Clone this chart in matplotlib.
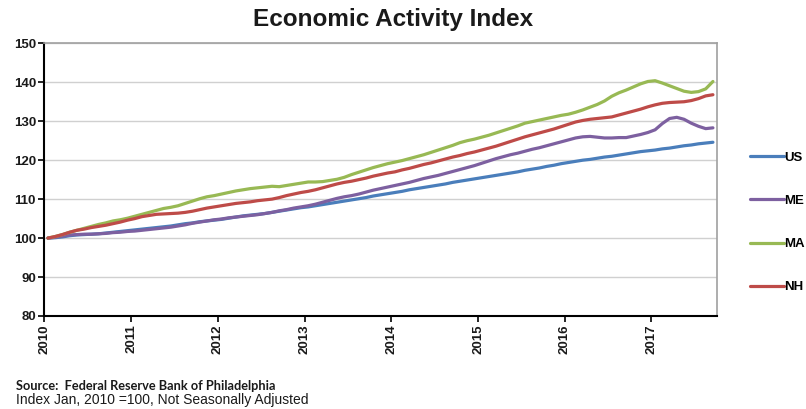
import numpy as np
import matplotlib
matplotlib.use("Agg")
import matplotlib.pyplot as plt

# monthly index values, Jan 2010 = 100, running Jan 2010 .. Sep 2017
us = [100.0, 100.1, 100.3, 100.6, 100.8, 100.9, 101.0, 101.1, 101.3, 101.5, 101.7, 101.9,
      102.1, 102.3, 102.5, 102.7, 102.9, 103.1, 103.4, 103.7, 103.9, 104.2, 104.4, 104.6,
      104.8, 105.1, 105.4, 105.7, 105.9, 106.1, 106.3, 106.6, 106.9, 107.2, 107.5, 107.8,
      108.0, 108.3, 108.6, 108.9, 109.2, 109.5, 109.8, 110.1, 110.4, 110.8, 111.1, 111.4,
      111.7, 112.0, 112.4, 112.7, 113.0, 113.3, 113.6, 113.9, 114.3, 114.6, 114.9, 115.2,
      115.5, 115.8, 116.1, 116.4, 116.7, 117.0, 117.4, 117.7, 118.0, 118.4, 118.7, 119.1,
      119.4, 119.7, 120.0, 120.2, 120.5, 120.8, 121.0, 121.3, 121.6, 121.9, 122.2, 122.4,
      122.6, 122.9, 123.1, 123.4, 123.7, 123.9, 124.2, 124.4, 124.6]

me = [100.0, 100.2, 100.5, 100.8, 100.9, 101.0, 101.0, 101.1, 101.2, 101.4, 101.5, 101.7,
      101.8, 102.0, 102.2, 102.4, 102.6, 102.8, 103.1, 103.4, 103.8, 104.1, 104.4, 104.7,
      104.9, 105.2, 105.4, 105.6, 105.8, 106.0, 106.3, 106.6, 107.0, 107.3, 107.7, 108.0,
      108.3, 108.7, 109.2, 109.7, 110.2, 110.6, 110.9, 111.3, 111.8, 112.3, 112.7, 113.1,
      113.5, 113.9, 114.3, 114.8, 115.3, 115.7, 116.1, 116.6, 117.1, 117.6, 118.1, 118.6,
      119.2, 119.8, 120.4, 120.9, 121.4, 121.8, 122.3, 122.8, 123.2, 123.7, 124.2, 124.7,
      125.2, 125.7, 126.0, 126.1, 125.9, 125.7, 125.7, 125.8, 125.8, 126.2, 126.6, 127.1,
      127.8, 129.4, 130.7, 131.0, 130.5, 129.5, 128.7, 128.1, 128.3]

ma = [100.0, 100.4, 100.9, 101.5, 102.0, 102.5, 103.0, 103.5, 103.9, 104.4, 104.7, 105.1,
      105.6, 106.1, 106.6, 107.1, 107.6, 107.9, 108.3, 108.9, 109.5, 110.1, 110.6, 110.9,
      111.3, 111.7, 112.1, 112.4, 112.7, 112.9, 113.1, 113.3, 113.2, 113.5, 113.8, 114.1,
      114.4, 114.4, 114.5, 114.8, 115.1, 115.6, 116.3, 116.9, 117.5, 118.1, 118.6, 119.1,
      119.5, 119.9, 120.4, 120.9, 121.4, 122.0, 122.6, 123.2, 123.8, 124.5, 125.0, 125.4,
      125.9, 126.4, 127.0, 127.6, 128.2, 128.8, 129.5, 129.9, 130.3, 130.7, 131.1, 131.5,
      131.8, 132.3, 132.9, 133.6, 134.3, 135.2, 136.4, 137.3, 138.0, 138.8, 139.6, 140.2,
      140.4, 139.8, 139.1, 138.4, 137.7, 137.4, 137.6, 138.3, 140.2]

nh = [100.0, 100.4, 100.9, 101.5, 102.0, 102.3, 102.7, 103.0, 103.3, 103.7, 104.1, 104.6,
      105.0, 105.5, 105.8, 106.1, 106.2, 106.3, 106.4, 106.6, 106.9, 107.3, 107.7, 108.0,
      108.3, 108.6, 108.9, 109.1, 109.3, 109.6, 109.8, 110.0, 110.4, 110.9, 111.3, 111.7,
      112.0, 112.4, 112.9, 113.4, 113.9, 114.3, 114.6, 115.0, 115.4, 115.9, 116.3, 116.7,
      117.0, 117.5, 117.9, 118.4, 118.9, 119.3, 119.8, 120.3, 120.8, 121.2, 121.7, 122.1,
      122.6, 123.1, 123.6, 124.2, 124.8, 125.4, 126.0, 126.5, 127.0, 127.5, 128.0, 128.6,
      129.2, 129.8, 130.2, 130.5, 130.7, 130.9, 131.1, 131.6, 132.1, 132.6, 133.1, 133.7,
      134.2, 134.6, 134.8, 134.9, 135.0, 135.3, 135.8, 136.5, 136.8]

series = ["US", "ME", "MA", "NH"]
colors = ["#4a7ebb", "#7d60a0", "#98b954", "#be4b48"]
years = [str(y) for y in range(2010, 2018)]

# category axis: one slot per month, point drawn at the slot centre
n = len(us)
x = np.arange(n) + 0.5

fig = plt.figure(figsize=(8.06, 4.09), dpi=100)
ax = fig.add_axes([0.055, 0.2274, 0.834, 0.6667])

for vals, name, c in zip([us, me, ma, nh], series, colors):
    ax.plot(x, vals, color=c, lw=2.3, label=name, solid_capstyle="round")

ax.set_xlim(0, n)
ax.set_ylim(80, 150)
ax.set_yticks(range(80, 151, 10))
ax.set_xticks(np.arange(0, n, 12))
ax.set_xticklabels(years, rotation=90)
for lab in ax.get_xticklabels() + ax.get_yticklabels():
    lab.set_fontfamily("Liberation Sans")
    lab.set_fontweight("bold")
    lab.set_fontsize(9.5)
    lab.set_color("#1a1a1a")

ax.yaxis.grid(True, color="#d0d0d0", lw=1.0)
ax.set_axisbelow(True)
ax.tick_params(axis="both", direction="out", length=4, width=1.2, color="black", pad=2)
for s in ["left", "bottom"]:
    ax.spines[s].set_color("black")
    ax.spines[s].set_linewidth(1.5)
for s in ["top", "right"]:
    ax.spines[s].set_color("#a0a0a0")
    ax.spines[s].set_linewidth(1.2)

leg = fig.legend(loc="center left", bbox_to_anchor=(0.930, 0.456), frameon=False,
                 handlelength=2.6, handletextpad=0.05, labelspacing=2.35,
                 borderpad=0, borderaxespad=0,
                 prop={"family": "Liberation Sans", "weight": "bold", "size": 9.5})

fig.text(0.488, 0.952, "Economic Activity Index", ha="center", va="center",
         fontsize=17.5, fontweight="bold", family="Liberation Sans", color="#1a1a1a")
fig.text(0.020, 0.056, "Source:  Federal Reserve Bank of Philadelphia", ha="left", va="center",
         fontsize=9.2, fontweight="bold", family="Lato", color="#1a1a1a")
fig.text(0.020, 0.023, "Index Jan, 2010 =100, Not Seasonally Adjusted", ha="left", va="center",
         fontsize=10.0, family="Liberation Sans", color="#1a1a1a")

fig.savefig("out.png", dpi=100)
